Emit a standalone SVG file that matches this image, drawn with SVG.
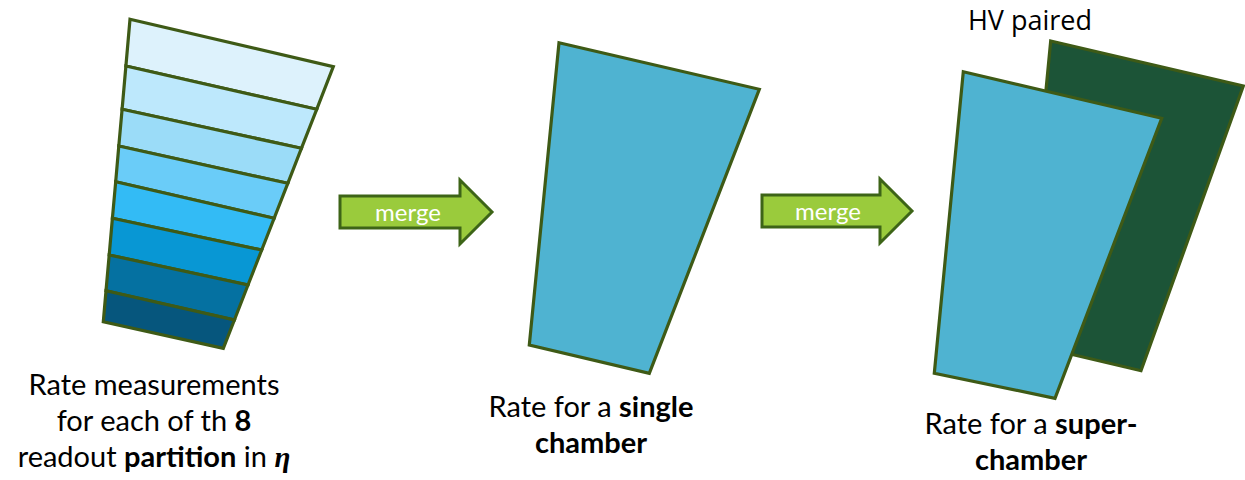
<svg xmlns="http://www.w3.org/2000/svg" width="1245" height="480" viewBox="0 0 1245 480">
<style>
.ol{stroke:#3E5A16;stroke-width:3.2;stroke-linejoin:miter}
.arr{fill:#9ACB3C;stroke:#3D6417;stroke-width:3}
.lbl{font-family:Lato,"Open Sans","Liberation Sans",sans-serif;font-size:29px;fill:#000;text-anchor:middle}
.mg{font-family:Lato,"Open Sans","Liberation Sans",sans-serif;font-size:24px;fill:#fff;text-anchor:middle}
</style>
<rect width="1245" height="480" fill="#fff"/>
<g id="partitions">
<polygon class="ol" fill="#DDF2FC" points="130,19.3 333.3,66.7 316.7,109.3 125.9,66"/>
<polygon class="ol" fill="#BDE8FC" points="125.9,66 316.7,109.3 301.4,148.3 122.1,109.3"/>
<polygon class="ol" fill="#9BDCF8" points="122.1,109.3 301.4,148.3 287.8,183.3 118.8,146"/>
<polygon class="ol" fill="#6ACCF8" points="118.8,146 287.8,183.3 274.1,218.3 115.7,181.7"/>
<polygon class="ol" fill="#33BBF5" points="115.7,181.7 274.1,218.3 261.7,250 112.4,218.3"/>
<polygon class="ol" fill="#0897D4" points="112.4,218.3 261.7,250 248,285 109.2,255"/>
<polygon class="ol" fill="#0571A1" points="109.2,255 248,285 234.4,320 106,290.7"/>
<polygon class="ol" fill="#06567D" points="106,290.7 234.4,320 223.3,348.3 103.3,321.7"/>
</g>
<g id="single-chamber">
<polygon class="ol" fill="#4FB3D1" points="559,42.7 759.3,89.3 649.3,373.3 529.3,345"/>
</g>
<g id="super-chamber">
<polygon class="ol" fill="#1C5437" points="1050.7,41 1243.3,86 1141,370.7 1021.7,342.6"/>
<polygon class="ol" fill="#4FB3D1" points="963.3,71.7 1161.7,118.3 1055,398.3 934.3,373.3"/>
</g>
<g id="connectors">
<g id="merge1">
<polygon class="arr" points="340,196 460,196 460,180 492,212 460,244 460,228 340,228"/>
<text class="mg" x="408" y="221">merge</text>
</g>
<g id="merge2">
<polygon class="arr" points="762,195 880,195 880,179 912,211 880,243 880,227 762,227"/>
<text class="mg" x="828" y="220">merge</text>
</g>
</g>
<g id="labels">
<text class="lbl" x="1030" y="30" style="font-family:'Open Sans',sans-serif;font-size:27px">HV paired</text>
<text class="lbl" x="154" y="395">Rate measurements</text>
<text class="lbl" x="154" y="431">for each of th <tspan font-weight="bold">8</tspan></text>
<text class="lbl" x="154" y="467">readout <tspan font-weight="bold">partition</tspan> in <tspan font-weight="bold" font-style="italic" font-family="'Liberation Serif',serif">η</tspan></text>
<text class="lbl" x="591" y="417">Rate for a <tspan font-weight="bold">single</tspan></text>
<text class="lbl" x="591" y="453" font-weight="bold">chamber</text>
<text class="lbl" x="1031" y="434">Rate for a <tspan font-weight="bold">super-</tspan></text>
<text class="lbl" x="1031" y="470" font-weight="bold">chamber</text>
</g>
</svg>
